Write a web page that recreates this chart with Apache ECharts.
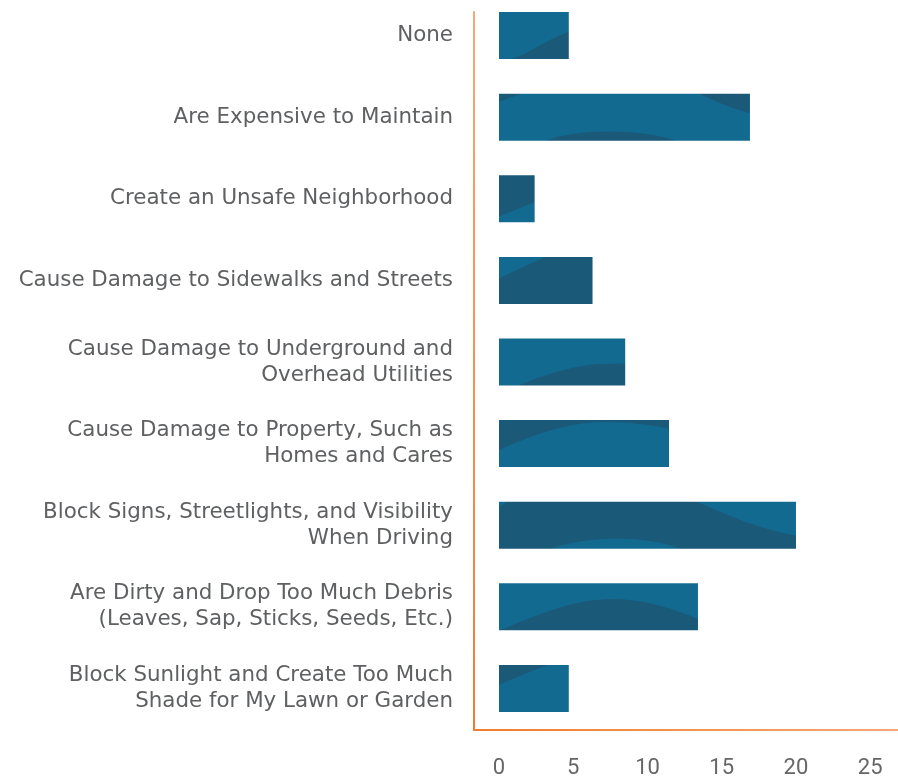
<!DOCTYPE html>
<html>
<head>
<meta charset="utf-8">
<script src="https://cdn.jsdelivr.net/npm/echarts@6/dist/echarts.min.js"></script>
<style>
html,body{margin:0;padding:0;background:#fff;}
#chart{width:898px;height:782px;}
</style>
</head>
<body>
<div id="chart"></div>
<script>
// ---- data ----
var categories = [
  'None',
  'Are Expensive to Maintain',
  'Create an Unsafe Neighborhood',
  'Cause Damage to Sidewalks and Streets',
  'Cause Damage to Underground and\nOverhead Utilities',
  'Cause Damage to Property, Such as\nHomes and Cares',
  'Block Signs, Streetlights, and Visibility\nWhen Driving',
  'Are Dirty and Drop Too Much Debris\n(Leaves, Sap, Sticks, Seeds, Etc.)',
  'Block Sunlight and Create Too Much\nShade for My Lawn or Garden'
];
var values = [4.7, 16.9, 2.4, 6.3, 8.5, 11.45, 20.0, 13.4, 4.7];
var tickValues = [0, 5, 10, 15, 20, 25];

// ---- wave texture (background image revealed through the bars) ----
var LIGHT = '#136a91', DARK = '#1b5979';
function waveTexture() {
  var c = document.createElement('canvas');
  c.width = 898; c.height = 782;
  var g = c.getContext('2d');
  function rows(y0, y1, col) { g.fillStyle = col; g.fillRect(480, y0, 418, y1 - y0); }
  function path(col, fn) { g.fillStyle = col; g.beginPath(); fn(g); g.closePath(); g.fill(); }
  rows(0, 76, LIGHT);
  path(DARK, function (p) { p.moveTo(505, 66); p.lineTo(505, 60); p.bezierCurveTo(530, 56, 545, 38, 575, 30); p.lineTo(600, 30); p.lineTo(600, 66); });
  rows(76, 158, LIGHT);
  path(DARK, function (p) { p.moveTo(480, 92); p.lineTo(526, 92); p.quadraticCurveTo(510, 97, 480, 110); });
  path(DARK, function (p) { p.moveTo(695, 92); p.bezierCurveTo(715, 101, 735, 110, 760, 116); p.lineTo(760, 92); });
  path(DARK, function (p) { p.moveTo(545, 141); p.bezierCurveTo(575, 129, 640, 128, 676, 141); });
  rows(158, 240, DARK);
  path(LIGHT, function (p) { p.moveTo(480, 224); p.lineTo(540, 200); p.lineTo(540, 230); p.lineTo(480, 230); });
  rows(240, 320, DARK);
  path(LIGHT, function (p) { p.moveTo(480, 250); p.lineTo(562, 250); p.quadraticCurveTo(525, 265, 480, 288); });
  rows(320, 402, LIGHT);
  path(DARK, function (p) { p.moveTo(515, 392); p.lineTo(515, 387); p.bezierCurveTo(550, 372, 580, 364, 605, 364); p.lineTo(640, 363); p.lineTo(640, 392); });
  rows(402, 484, LIGHT);
  path(DARK, function (p) { p.moveTo(480, 413); p.lineTo(480, 459); p.bezierCurveTo(525, 437, 565, 422, 605, 422); p.bezierCurveTo(630, 422, 655, 425, 680, 431); p.lineTo(680, 413); });
  rows(484, 566, DARK);
  path(LIGHT, function (p) { p.moveTo(480, 494); p.lineTo(524, 494); p.quadraticCurveTo(505, 501, 480, 520); });
  path(LIGHT, function (p) { p.moveTo(695, 494); p.lineTo(695, 501); p.bezierCurveTo(730, 516, 760, 530, 800, 536); p.lineTo(800, 494); });
  path(LIGHT, function (p) { p.moveTo(550, 556); p.lineTo(550, 549); p.bezierCurveTo(590, 535, 645, 535, 681, 549); p.lineTo(681, 556); });
  rows(566, 648, LIGHT);
  path(DARK, function (p) { p.moveTo(480, 637); p.lineTo(480, 639); p.bezierCurveTo(540, 612, 580, 598, 615, 599); p.bezierCurveTo(650, 600, 675, 610, 702, 620); p.lineTo(702, 637); });
  rows(648, 782, LIGHT);
  path(DARK, function (p) { p.moveTo(480, 658); p.lineTo(480, 693); p.bezierCurveTo(510, 680, 530, 671, 554, 663); p.lineTo(554, 658); });
  return c;
}
var tex = waveTexture();

var chart = echarts.init(document.getElementById('chart'), null, { renderer: 'canvas' });
var orangeX = { type: 'linear', x: 474, y: 0, x2: 898, y2: 0, global: true,
  colorStops: [{ offset: 0, color: '#f07c30' }, { offset: 1, color: '#f6a873' }] };
var orangeY = { type: 'linear', x: 0, y: 730, x2: 0, y2: 12, global: true,
  colorStops: [{ offset: 0, color: '#f07c30' }, { offset: 1, color: '#f6a873' }] };

chart.setOption({
  animation: false,
  backgroundColor: '#ffffff',
  grid: [
    { left: 499, right: 0, bottom: 52.8, height: 734.4, containLabel: false, outerBoundsMode: 'none' },
    { left: 474, right: 0, top: 12, bottom: 52, containLabel: false, outerBoundsMode: 'none' }
  ],
  xAxis: [
    {
      type: 'value', gridIndex: 0, min: 0, max: 26.87, interval: 5,
      axisLine: { show: false }, axisTick: { show: false }, splitLine: { show: false },
      axisLabel: {
        margin: 28, color: '#666666', fontSize: 22, fontFamily: 'Roboto', showMaxLabel: false,
        formatter: function (v) { return tickValues.indexOf(v) >= 0 ? String(v) : ''; }
      }
    },
    {
      type: 'value', gridIndex: 1, min: 0, max: 1,
      axisLine: { show: true, lineStyle: { color: orangeX, width: 2 } },
      axisTick: { show: false }, axisLabel: { show: false }, splitLine: { show: false }
    }
  ],
  yAxis: [
    {
      type: 'category', gridIndex: 0, data: categories, inverse: true,
      axisLine: { show: false }, axisTick: { show: false }, splitLine: { show: false },
      axisLabel: {
        margin: 46, color: '#5f6062', fontSize: 21.4, lineHeight: 26, fontFamily: 'DejaVu Sans',
        align: 'right', padding: [7, 0, 0, 0]
      }
    },
    {
      type: 'value', gridIndex: 1, min: 0, max: 1,
      axisLine: { show: true, lineStyle: { color: orangeY, width: 2 } },
      axisTick: { show: false }, axisLabel: { show: false }, splitLine: { show: false }
    }
  ],
  series: [{
    type: 'bar', xAxisIndex: 0, yAxisIndex: 0,
    data: values, barWidth: 47,
    itemStyle: { color: { image: tex, repeat: 'no-repeat' } }
  }]
});
</script>
</body>
</html>
